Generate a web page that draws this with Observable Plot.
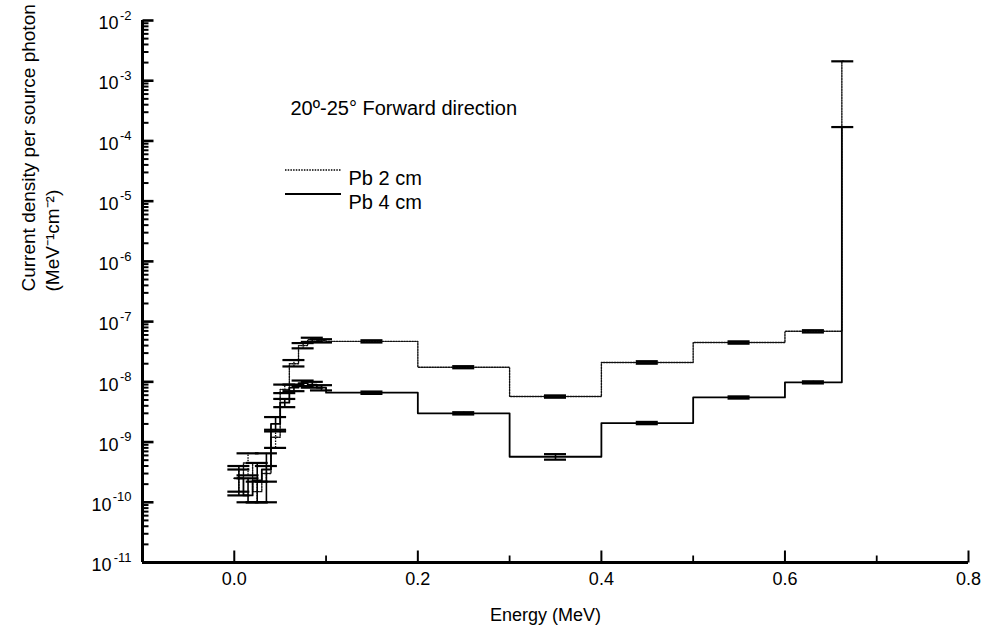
<!DOCTYPE html>
<html><head><meta charset="utf-8">
<script src="https://cdn.jsdelivr.net/npm/d3@7"></script>
<script src="https://cdn.jsdelivr.net/npm/@observablehq/plot@0.6"></script>
<style>
body{margin:0;background:#fff;}
#wrap{position:relative;width:988px;height:639px;font-family:"Liberation Sans",Arial,sans-serif;}
#legendLines{position:absolute;left:0;top:0;pointer-events:none;}
</style></head><body><div id="wrap"></div>
<script>
// ---- data ----
const binEdges = [0, 0.01, 0.02, 0.03, 0.04, 0.05, 0.06, 0.07, 0.08, 0.09, 0.1, 0.2, 0.3, 0.4, 0.5, 0.6, 0.662, 0.664];
const seriesNames = ["Pb 2 cm", "Pb 4 cm"];

const pb2Values = [2.5e-10, 4.5e-10, 1.5e-10, 3.0e-10, 1.2e-9, 7.5e-9, 2.0e-8, 4.0e-8, 5.0e-8, 4.8e-8, 4.7e-8, 1.75e-8, 5.7e-9, 2.1e-8, 4.5e-8, 6.9e-8, 2.1e-3];
const pb2Low    = [1.5e-10, 2.8e-10, 1.0e-10, 2.2e-10, 8.0e-10, 6.5e-9, 1.8e-8, 3.6e-8, 4.6e-8, 4.5e-8, 4.5e-8, 1.68e-8, 5.45e-9, 2.0e-8, 4.3e-8, 6.6e-8, 2.1e-3];
const pb2High   = [3.5e-10, 6.5e-10, 2.2e-10, 4.0e-10, 1.6e-9, 9.0e-9, 2.3e-8, 4.4e-8, 5.4e-8, 5.1e-8, 4.9e-8, 1.82e-8, 5.95e-9, 2.2e-8, 4.7e-8, 7.2e-8, 2.1e-3];

const pb4Values = [2.5e-10, 1.3e-10, 2.3e-10, 3.5e-10, 2.0e-9, 4.5e-9, 8.0e-9, 9.5e-9, 9.0e-9, 8.0e-9, 6.6e-9, 3.0e-9, 5.7e-10, 2.07e-9, 5.5e-9, 9.8e-9, 1.7e-4];
const pb4Low    = [1.3e-10, 1.0e-10, 1.0e-10, 1.0e-10, 1.5e-9, 3.8e-9, 7.0e-9, 8.5e-9, 8.0e-9, 7.2e-9, 6.3e-9, 2.87e-9, 5.1e-10, 1.98e-9, 5.27e-9, 9.4e-9, 1.7e-4];
const pb4High   = [4.0e-10, 2.5e-10, 4.5e-10, 6.5e-10, 2.6e-9, 5.2e-9, 9.0e-9, 1.05e-8, 1.0e-8, 8.8e-9, 6.9e-9, 3.13e-9, 6.3e-10, 2.16e-9, 5.73e-9, 1.02e-8, 1.7e-4];

const xDomain = [-0.1, 0.8];
const yDomain = [1e-11, 1e-2];
const xMajorTicks = [0, 0.2, 0.4, 0.6, 0.8];
const xMinorTicks = [0.1, 0.3, 0.5, 0.7];
const decadeTicks = [1e-11, 1e-10, 1e-9, 1e-8, 1e-7, 1e-6, 1e-5, 1e-4, 1e-3, 1e-2];
const titleText = "20º-25° Forward direction";
const xLabel = "Energy (MeV)";
const yLabel1 = "Current density per source photon";
const yLabel2 = "(MeV⁻¹cm⁻²)";

// ---- layout ----
const W = 988, H = 639, ML = 142, MR = 20, MT = 20, MB = 77;
const xPerPx = (xDomain[1] - xDomain[0]) / (W - ML - MR);
const logPerPx = Math.log10(yDomain[1] / yDomain[0]) / (H - MT - MB);
const xTickEnd = px => xDomain[0] + px * xPerPx;                 // inward y-axis ticks
const yTickEnd = px => yDomain[0] * Math.pow(10, px * logPerPx); // inward x-axis ticks

// ---- derived tables ----
const minorTicks = decadeTicks.slice(0, -1).flatMap(d => [2,3,4,5,6,7,8,9].map(m => m * d));
function stepPoints(values) {
  const pts = values.map((v, i) => ({x: binEdges[i], y: v}));
  pts.push({x: binEdges[values.length], y: values[values.length - 1]});
  return pts;
}
function errBars(values, lo, hi) {
  return values.map((v, i) => ({x: (binEdges[i] + binEdges[i + 1]) / 2, v, lo: lo[i], hi: hi[i]}));
}
function caps(bars) {
  return bars.flatMap(b => b.lo === b.hi ? [{x: b.x, y: b.lo}] : [{x: b.x, y: b.lo}, {x: b.x, y: b.hi}]);
}
const capHalf = 0.012;
const pb2Bars = errBars(pb2Values, pb2Low, pb2High);
const pb4Bars = errBars(pb4Values, pb4Low, pb4High);
const expOf = d => Math.round(-Math.log10(d));

const FONT = "Liberation Sans, Arial, sans-serif";
const plot = Plot.plot({
  width: W, height: H,
  marginLeft: ML, marginRight: MR, marginTop: MT, marginBottom: MB,
  style: {fontFamily: FONT, fontSize: "18px", color: "black"},
  x: {domain: xDomain, axis: null},
  y: {type: "log", domain: yDomain, axis: null},
  marks: [
    // axis lines
    Plot.ruleX([xDomain[0]], {stroke: "black", strokeWidth: 3}),
    Plot.ruleY([yDomain[0]], {stroke: "black", strokeWidth: 3}),
    // inward ticks
    Plot.link(minorTicks, {x1: () => xDomain[0], x2: () => xTickEnd(6), y1: d => d, y2: d => d, stroke: "black", strokeWidth: 2}),
    Plot.link(decadeTicks, {x1: () => xDomain[0], x2: () => xTickEnd(11), y1: d => d, y2: d => d, stroke: "black", strokeWidth: 2.6}),
    Plot.link(xMinorTicks, {x1: d => d, x2: d => d, y1: () => yDomain[0], y2: () => yTickEnd(7), stroke: "black", strokeWidth: 1.8}),
    Plot.link(xMajorTicks, {x1: d => d, x2: d => d, y1: () => yDomain[0], y2: () => yTickEnd(12), stroke: "black", strokeWidth: 2}),
    // x tick labels
    Plot.text(xMajorTicks, {x: d => d, frameAnchor: "bottom", text: d3.format(".1f"), lineAnchor: "top", dy: 10, fontSize: 18}),
    // y tick labels 10^-n
    Plot.text(decadeTicks.filter(d => expOf(d) < 10), {y: d => d, frameAnchor: "left", text: () => "10", textAnchor: "end", dx: -24, dy: 3, fontSize: 18}),
    Plot.text(decadeTicks.filter(d => expOf(d) >= 10), {y: d => d, frameAnchor: "left", text: () => "10", textAnchor: "end", dx: -31, dy: 3, fontSize: 18}),
    Plot.text(decadeTicks, {y: d => d, frameAnchor: "left", text: d => "-" + expOf(d), textAnchor: "end", dx: -11, dy: -5, fontSize: 13}),
    // axis titles
    Plot.text([yLabel1], {frameAnchor: "left", rotate: -90, dx: -114, fontSize: 19}),
    Plot.text([yLabel2], {frameAnchor: "left", rotate: -90, dx: -90, fontSize: 19}),
    Plot.text([xLabel], {frameAnchor: "bottom", dx: -10, dy: 58, fontSize: 18}),
    // annotation + legend labels
    Plot.text([titleText], {frameAnchor: "top-left", textAnchor: "start", dx: 148, dy: 80, fontSize: 20}),
    Plot.text([seriesNames[0]], {frameAnchor: "top-left", textAnchor: "start", dx: 206, dy: 150, fontSize: 20}),
    Plot.text([seriesNames[1]], {frameAnchor: "top-left", textAnchor: "start", dx: 206, dy: 174, fontSize: 20}),
    // series: Pb 2 cm (dotted)
    Plot.ruleX(pb2Bars, {x: "x", y1: "lo", y2: "hi", stroke: "black", strokeWidth: 1.3, strokeDasharray: "1.5,1.2"}),
    Plot.line(stepPoints(pb2Values), {x: "x", y: "y", curve: "step-after", stroke: "#111", strokeWidth: 1.4, strokeDasharray: "1.5,1.2"}),
    Plot.ruleY(caps(pb2Bars), {y: "y", x1: d => d.x - capHalf, x2: d => d.x + capHalf, stroke: "black", strokeWidth: 2.2}),
    // series: Pb 4 cm (solid)
    Plot.ruleX(pb4Bars, {x: "x", y1: "lo", y2: "hi", stroke: "black", strokeWidth: 1.6}),
    Plot.line(stepPoints(pb4Values), {x: "x", y: "y", curve: "step-after", stroke: "black", strokeWidth: 1.8}),
    Plot.ruleY(caps(pb4Bars), {y: "y", x1: d => d.x - capHalf, x2: d => d.x + capHalf, stroke: "black", strokeWidth: 2.2})
  ]
});
const wrap = document.getElementById("wrap");
wrap.appendChild(plot);
// legend sample lines
const ns = "http://www.w3.org/2000/svg";
const lg = document.createElementNS(ns, "svg");
lg.setAttribute("id", "legendLines");
lg.setAttribute("width", W); lg.setAttribute("height", H);
[[170, "1.5,1.2", 1.4], [194, null, 1.8]].forEach(([y, dash, w]) => {
  const l = document.createElementNS(ns, "line");
  l.setAttribute("x1", 285); l.setAttribute("x2", 341);
  l.setAttribute("y1", y); l.setAttribute("y2", y);
  l.setAttribute("stroke", "black"); l.setAttribute("stroke-width", w);
  if (dash) l.setAttribute("stroke-dasharray", dash);
  lg.appendChild(l);
});
wrap.appendChild(lg);
</script></body></html>
